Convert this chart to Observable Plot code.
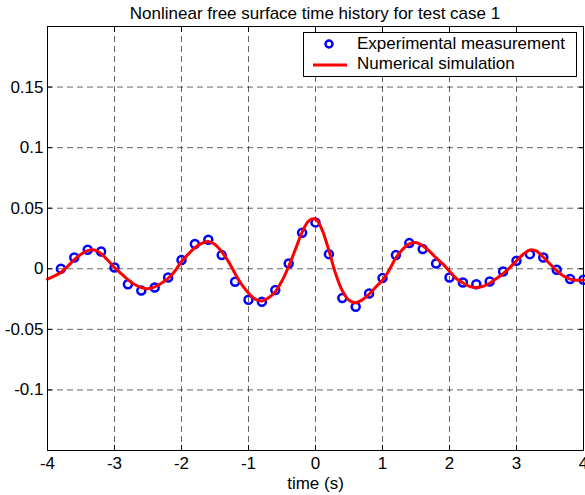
<!DOCTYPE html>
<html>
<head>
<meta charset="utf-8">
<script src="https://cdn.jsdelivr.net/npm/d3@7"></script>
<script src="https://cdn.jsdelivr.net/npm/@observablehq/plot@0.6"></script>
<style>
  body { margin: 0; background: #fff; font-family: "Liberation Sans", Arial, sans-serif; }
  #wrap { position: relative; width: 585px; height: 495px; background: #fff; overflow: hidden; }
  #title { height: 22px; line-height: 27px; font-size: 17px; text-align: center; padding-left: 45px; color: #000; white-space: nowrap; }
  #legend { position: absolute; left: 303px; top: 32px; width: 272px; height: 43px; border: 1px solid #000; background: #fff; font-size: 17px; color: #000; }
  #legend .row { position: absolute; left: 53px; white-space: nowrap; line-height: normal; }
</style>
</head>
<body>
<div id="wrap">
  <div id="title"></div>
  <div id="chart"></div>
  <div id="legend"></div>
</div>
<script>
const titleText = "Nonlinear free surface time history for test case 1";
const xLabel = "time (s)";
const legendLabels = ["Experimental measurement", "Numerical simulation"];

const expTime = [-3.8, -3.6, -3.4, -3.2, -3.0, -2.8, -2.6, -2.4, -2.2, -2.0,
                 -1.8, -1.6, -1.4, -1.2, -1.0, -0.8, -0.6, -0.4, -0.2, 0.0,
                 0.2, 0.4, 0.6, 0.8, 1.0, 1.2, 1.4, 1.6, 1.8, 2.0,
                 2.2, 2.4, 2.6, 2.8, 3.0, 3.2, 3.4, 3.6, 3.8, 4.0];
const expValue = [0.0, 0.0093, 0.0157, 0.0143, 0.001, -0.0127, -0.018, -0.0154, -0.0072, 0.0072,
                  0.0204, 0.024, 0.0113, -0.0107, -0.0256, -0.0273, -0.0176, 0.0044, 0.0297, 0.0383,
                  0.0121, -0.0242, -0.0314, -0.0204, -0.0077, 0.0113, 0.0212, 0.0163, 0.0044, -0.0072,
                  -0.0113, -0.0127, -0.0105, -0.0022, 0.0066, 0.0121, 0.0093, -0.0008, -0.0085, -0.0091];

const simTime = [-4.0, -3.9, -3.8, -3.7, -3.6, -3.5, -3.4, -3.3, -3.2, -3.1,
                 -3.0, -2.9, -2.8, -2.7, -2.6, -2.5, -2.4, -2.3, -2.2, -2.1,
                 -2.0, -1.9, -1.8, -1.7, -1.6, -1.5, -1.4, -1.3, -1.2, -1.1,
                 -1.0, -0.9, -0.8, -0.7, -0.6, -0.5, -0.4, -0.3, -0.2, -0.1,
                 0.0, 0.1, 0.2, 0.3, 0.4, 0.5, 0.6, 0.7, 0.8, 0.9,
                 1.0, 1.1, 1.2, 1.3, 1.4, 1.5, 1.6, 1.7, 1.8, 1.9,
                 2.0, 2.1, 2.2, 2.3, 2.4, 2.5, 2.6, 2.7, 2.8, 2.9,
                 3.0, 3.1, 3.2, 3.3, 3.4, 3.5, 3.6, 3.7, 3.8, 3.9, 4.0];
const simValue = [-0.0085, -0.006, -0.003, 0.002, 0.0075, 0.012, 0.015, 0.0155, 0.0125, 0.007,
                  0.001, -0.004, -0.009, -0.013, -0.0155, -0.0165, -0.015, -0.012, -0.008, -0.002,
                  0.006, 0.012, 0.0175, 0.021, 0.0225, 0.020, 0.014, 0.006, -0.004, -0.013,
                  -0.020, -0.025, -0.0265, -0.024, -0.019, -0.010, 0.002, 0.016, 0.030, 0.0395,
                  0.041, 0.032, 0.015, -0.004, -0.018, -0.026, -0.028, -0.0255, -0.021, -0.015,
                  -0.0095, -0.001, 0.009, 0.016, 0.0205, 0.0217, 0.019, 0.0145, 0.009, 0.004,
                  -0.002, -0.008, -0.0115, -0.0145, -0.0155, -0.0145, -0.012, -0.008, -0.004, 0.001,
                  0.0066, 0.012, 0.0155, 0.0145, 0.0095, 0.004, -0.0015, -0.006, -0.0085, -0.0095, -0.0093];

const xTicks = [-4, -3, -2, -1, 0, 1, 2, 3, 4];
const xTickLabels = ["-4", "-3", "-2", "-1", "0", "1", "2", "3", "4"];
const yTicks = [-0.1, -0.05, 0, 0.05, 0.1, 0.15];
const yTickLabels = ["-0.1", "-0.05", "0", "0.05", "0.1", "0.15"];
const xDomain = [-4, 4];
const yDomain = [-0.15, 0.2];

const expData = expTime.map((t, i) => ({t, v: expValue[i]}));
const simData = simTime.map((t, i) => ({t, v: simValue[i]}));

document.getElementById("title").textContent = titleText;

const gridStyle = {stroke: "#000", strokeOpacity: 0.6, strokeDasharray: "6,4", strokeWidth: 1};

const chart = Plot.plot({
  width: 585,
  height: 473,
  marginTop: 4,
  marginBottom: 45,
  marginLeft: 47,
  marginRight: 2,
  style: {fontFamily: "'Liberation Sans', Arial, sans-serif", fontSize: "17px", background: "white", color: "black", overflow: "visible"},
  x: {domain: xDomain},
  y: {domain: yDomain},
  marks: [
    Plot.gridX(xTicks, gridStyle),
    Plot.gridY(yTicks, gridStyle),
    Plot.dot(expData, {x: "t", y: "v", r: 4, stroke: "#0000ff", strokeWidth: 2.5, fill: "none"}),
    Plot.line(simData, {x: "t", y: "v", stroke: "#ff0000", strokeWidth: 3, curve: "catmull-rom"}),
    Plot.axisX(xTicks, {anchor: "bottom", tickSize: -5, tickPadding: 11, tickFormat: d => xTickLabels[xTicks.indexOf(d)],
      label: xLabel, labelAnchor: "center", labelOffset: 38, labelArrow: "none", fill: "black", fontSize: 17}),
    Plot.axisX(xTicks, {anchor: "top", tickSize: -5, tickFormat: () => "", label: null}),
    Plot.axisY(yTicks, {anchor: "left", tickSize: -5, tickPadding: 9, tickFormat: d => yTickLabels[yTicks.indexOf(d)], label: null, fill: "black", fontSize: 17}),
    Plot.axisY(yTicks, {anchor: "right", tickSize: -5, tickFormat: () => "", label: null}),
    Plot.frame({stroke: "#000", strokeWidth: 1})
  ]
});
document.getElementById("chart").appendChild(chart);

// legend
const legend = document.getElementById("legend");
const ns = "http://www.w3.org/2000/svg";
const lsvg = document.createElementNS(ns, "svg");
lsvg.setAttribute("width", "50");
lsvg.setAttribute("height", "43");
lsvg.style.position = "absolute";
lsvg.style.left = "0px";
lsvg.style.top = "0px";
const c = document.createElementNS(ns, "circle");
c.setAttribute("cx", "25"); c.setAttribute("cy", "11"); c.setAttribute("r", "3.5");
c.setAttribute("fill", "none"); c.setAttribute("stroke", "#0000ff"); c.setAttribute("stroke-width", "2.5");
lsvg.appendChild(c);
const l = document.createElementNS(ns, "line");
l.setAttribute("x1", "9"); l.setAttribute("x2", "43"); l.setAttribute("y1", "32"); l.setAttribute("y2", "32");
l.setAttribute("stroke", "#ff0000"); l.setAttribute("stroke-width", "3");
lsvg.appendChild(l);
legend.appendChild(lsvg);
legendLabels.forEach((txt, i) => {
  const d = document.createElement("div");
  d.className = "row";
  d.style.top = (i === 0 ? 1 : 21) + "px";
  d.textContent = txt;
  legend.appendChild(d);
});
</script>
</body>
</html>
